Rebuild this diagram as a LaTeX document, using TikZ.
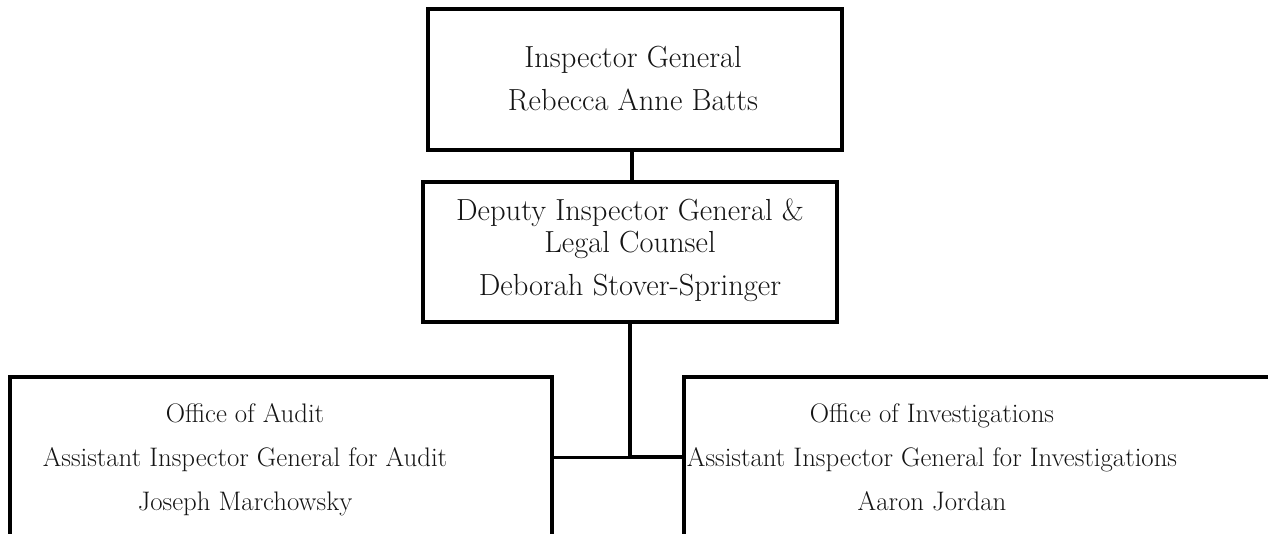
\documentclass[tikz,border=0pt]{standalone}
\begin{document}
\begin{tikzpicture}[x=1pt,y=-1pt,
  box/.style={draw=black, line width=4pt, rectangle, inner sep=0pt, fill=none},
  bigtxt/.style={align=center, inner sep=0pt, anchor=north, text=black!92, font=\fontsize{30.5}{43}\selectfont},
  smalltxt/.style={align=center, inner sep=0pt, anchor=north, text=black!92, font=\fontsize{26.8}{44}\selectfont},
  conn/.style={draw=black, line width=4pt}
]
\useasboundingbox (0,0) rectangle (1268,533);
\clip (0,0) rectangle (1268,533);
% boxes
\node[box, minimum width=414pt, minimum height=141pt] (ig)  at (635,79.5) {};
\node[box, minimum width=414pt, minimum height=140pt] (dig) at (630,252) {};
\node[box, minimum width=542pt, minimum height=159pt] (oa)  at (281,456.5) {};
\node[box, minimum width=591pt, minimum height=159pt] (oi)  at (979.5,456.5) {};
% texts
\node[bigtxt] (igt) at (633,46) {\rule{0pt}{20pt}Inspector General\\Rebecca Anne Batts\rule[-6pt]{0pt}{6pt}};
\node[bigtxt, font=\fontsize{30.5}{32}\selectfont] (digt) at (630,199) {\rule{0pt}{20pt}Deputy Inspector General \&\\Legal Counsel\\[11pt]Deborah Stover-Springer\rule[-6pt]{0pt}{6pt}};
\node[smalltxt] (oat) at (245,403) {\rule{0pt}{18pt}Office of Audit\\Assistant Inspector General for Audit\\Joseph Marchowsky\rule[-6pt]{0pt}{6pt}};
\node[smalltxt] (oit) at (932,403) {\rule{0pt}{18pt}Office of Investigations\\Assistant Inspector General for Investigations\\Aaron Jordan\rule[-6pt]{0pt}{6pt}};
% connectors
\coordinate (j) at (630,457);
\draw[conn] ([xshift=-3pt]ig.south) -- ([xshift=2pt]dig.north);
\draw[conn] (dig.south) -- (j);
\draw[conn, line width=3pt] (oa.east |- j) -- (j);
\draw[conn] (j) -- (oi.west |- j);
\end{tikzpicture}
\end{document}
